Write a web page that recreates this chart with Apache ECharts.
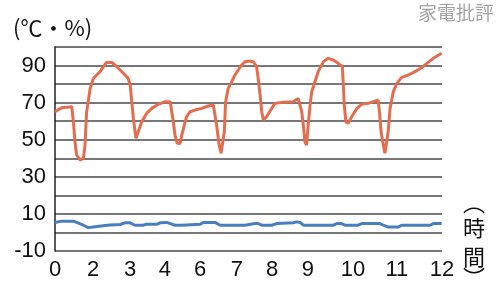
<!DOCTYPE html>
<html>
<head>
<meta charset="utf-8">
<script src="https://cdn.jsdelivr.net/npm/echarts@6/dist/echarts.min.js"></script>
<style>
html,body{margin:0;padding:0;background:#fff;}
#chart{width:500px;height:285px;}
</style>
</head>
<body>
<div id="chart"></div>
<script>
// Time axis (hours)
const redHours = [0,0.21,0.52,0.57,0.62,0.67,0.78,0.88,0.93,0.98,1.09,1.19,1.29,1.40,1.50,1.60,1.76,1.86,2.02,2.17,2.27,2.33,2.38,2.43,2.51,2.58,2.69,2.84,3.00,3.20,3.41,3.57,3.62,3.67,3.72,3.79,3.88,3.93,4.01,4.08,4.19,4.34,4.55,4.75,4.91,4.96,5.01,5.09,5.15,5.20,5.25,5.29,5.37,5.48,5.58,5.68,5.79,5.89,5.99,6.15,6.25,6.30,6.36,6.41,6.46,6.56,6.72,6.82,7.08,7.39,7.54,7.60,7.65,7.70,7.75,7.80,7.85,7.91,7.96,8.06,8.16,8.32,8.47,8.63,8.78,8.91,8.94,8.97,9.02,9.09,9.20,9.36,9.51,9.71,9.92,10.02,10.06,10.11,10.18,10.23,10.29,10.33,10.39,10.49,10.60,10.75,10.96,11.16,11.37,11.53,11.73,11.99];
const redValues = [65.1,67.3,67.8,59.7,48.9,41.8,39,40,47,65,77.7,83,84.9,86.7,89.4,91.7,91.7,90.3,87.6,84.9,83.1,79.5,70.5,61.5,50.8,54.3,59.7,64.2,66.9,69.1,70.5,70.5,69.6,59.7,52.5,48.1,48,52.5,57.9,62.4,65.1,66,66.9,68.2,68.7,67.8,57.9,47.1,42.7,43.5,54.3,70.5,77.7,81.3,84.9,87.6,90.3,92,92.4,92,89.4,83.1,74.1,65.1,60.6,62.4,66.9,69.6,70.2,70.5,72.3,71.4,65.1,57.9,48.9,47.1,57.9,68.7,75.9,81.3,86.7,92,93.9,93,91.2,89.4,79.5,68.7,59.7,58.8,62.4,66.9,69.1,69.6,70.8,71.4,65.1,54.3,47.1,42.7,43.5,54.3,66.9,75.9,80.4,83.6,84.9,86.7,88.8,91.2,93.9,96.6];

const blueHours = [0,0.21,0.57,0.67,0.88,1.03,1.19,1.24,1.55,1.71,2.02,2.17,2.33,2.48,2.73,2.84,3.15,3.26,3.46,3.72,3.93,3.97,4.50,4.60,4.96,5.12,5.89,6.20,6.30,6.41,6.72,6.87,7.39,7.49,7.60,7.70,8.63,8.74,8.88,8.99,9.40,9.51,10.08,10.18,10.33,10.64,10.75,11.63,11.73,11.99];
const blueValues = [5.4,6.1,6.1,5.4,3.9,2.6,3.0,3.7,3.7,4.0,4.3,5.2,5.2,3.9,3.9,4.4,4.4,5.2,5.4,3.9,3.9,4.4,4.4,5.4,5.4,3.9,3.9,4.8,4.8,3.9,3.9,4.8,5.2,5.7,5.4,3.9,3.9,4.8,4.8,3.9,3.9,4.8,4.8,3.9,2.9,2.9,3.9,3.9,4.8,4.8];

// Tick labels
const xTickLabels = ['0','2','3','4','6','7','8','9','10','11','12'];
const xTickAt = [0,1.18,2.33,3.41,4.5,5.64,6.73,7.84,9.24,10.6,12];
const yTickLabels = [-10,10,30,50,70,90];

const yUnit = '(℃・%)';
const xUnit = ['︵','時','間','︶'];
const watermark = '家電批評';

const chart = echarts.init(document.getElementById('chart'), null, {renderer:'canvas'});
const numFont = '"Liberation Sans", Arial, sans-serif';
const cjkFont = '"Noto Sans CJK JP", sans-serif';

chart.setOption({
  animation: false,
  backgroundColor: '#fff',
  grid: {left: 55, right: 58, top: 47, bottom: 34, containLabel: false},
  xAxis: {
    type: 'value', min: 0, max: 12,
    axisLine: {show: false},
    axisTick: {show: false},
    splitLine: {show: false},
    axisLabel: {
      customValues: xTickAt,
      formatter: function (v) {
        const i = xTickAt.indexOf(v);
        return i >= 0 ? xTickLabels[i] : '';
      },
      color: '#111', fontFamily: numFont, fontSize: 22, margin: 8
    }
  },
  yAxis: {
    type: 'value', min: -10, max: 100, interval: 10,
    axisLine: {show: true, lineStyle: {color: '#222', width: 1.5}},
    axisTick: {show: false},
    splitLine: {show: true, lineStyle: {color: '#4a4a4a', width: 1.5}},
    axisLabel: {
      customValues: yTickLabels,
      color: '#111', fontFamily: numFont, fontSize: 22, margin: 9
    }
  },
  series: [
    {
      type: 'line', showSymbol: false,
      data: redHours.map((h, i) => [h, redValues[i]]),
      lineStyle: {color: '#e36d4e', width: 3},
      z: 3
    },
    {
      type: 'line', showSymbol: false,
      data: blueHours.map((h, i) => [h, blueValues[i]]),
      lineStyle: {color: '#4a7fbf', width: 3},
      z: 3
    }
  ],
  graphic: [
    {type: 'text', left: 13, top: 17, style: {text: yUnit, font: '22px ' + cjkFont, fill: '#111'}},
    {type: 'text', right: 6, top: 3, style: {text: watermark, font: '19px ' + cjkFont, fill: '#a3a3a3'}},
    {type: 'text', left: 463, top: 192, style: {text: xUnit[0], font: '22px ' + cjkFont, fill: '#111'}},
    {type: 'text', left: 463, top: 217, style: {text: xUnit[1], font: '22px ' + cjkFont, fill: '#111'}},
    {type: 'text', left: 463, top: 246, style: {text: xUnit[2], font: '22px ' + cjkFont, fill: '#111'}},
    {type: 'text', left: 463, top: 267, style: {text: xUnit[3], font: '22px ' + cjkFont, fill: '#111'}}
  ]
});
</script>
</body>
</html>
